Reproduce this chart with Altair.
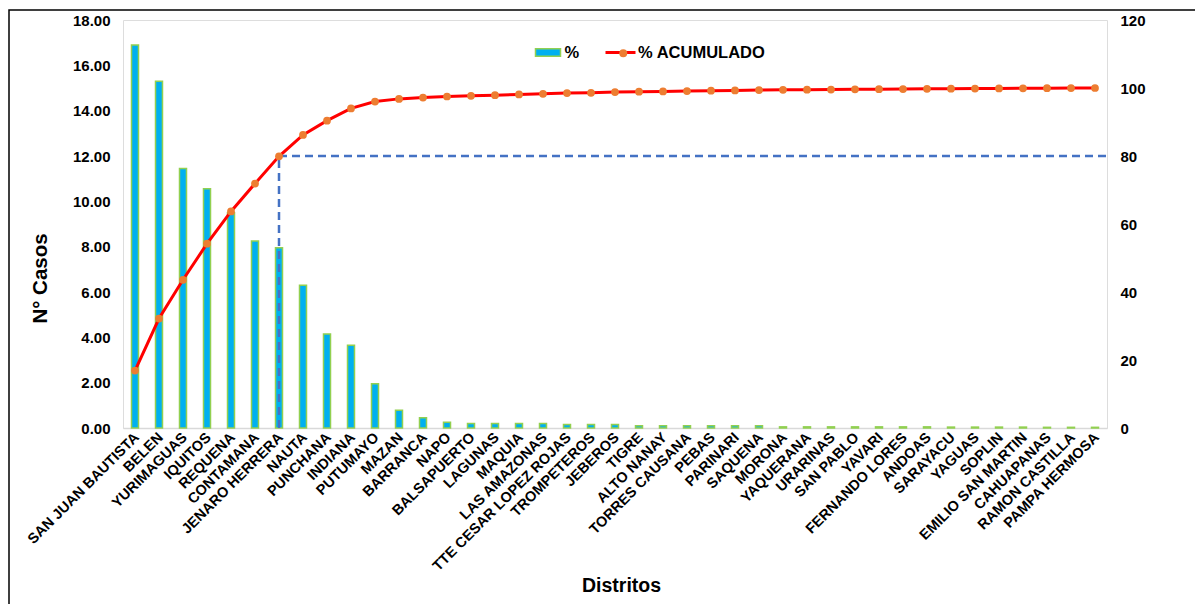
import altair as alt
import pandas as pd

# ---------------- data ----------------
distritos = [
    "SAN JUAN BAUTISTA", "BELEN", "YURIMAGUAS", "IQUITOS", "REQUENA", "CONTAMANA",
    "JENARO HERRERA", "NAUTA", "PUNCHANA", "INDIANA", "PUTUMAYO", "MAZAN", "BARRANCA",
    "NAPO", "BALSAPUERTO", "LAGUNAS", "MAQUIA", "LAS AMAZONAS", "TTE CESAR LOPEZ ROJAS",
    "TROMPETEROS", "JEBEROS", "TIGRE", "ALTO NANAY", "TORRES CAUSANA", "PEBAS",
    "PARINARI", "SAQUENA", "MORONA", "YAQUERANA", "URARINAS", "SAN PABLO", "YAVARI",
    "FERNANDO LORES", "ANDOAS", "SARAYACU", "YAGUAS", "SOPLIN", "EMILIO SAN MARTIN",
    "CAHUAPANAS", "RAMON CASTILLA", "PAMPA HERMOSA",
]
porcentaje = [
    16.9, 15.3, 11.45, 10.55, 9.5, 8.25, 7.95, 6.3, 4.15, 3.65, 1.95, 0.78, 0.45,
    0.25, 0.2, 0.2, 0.2, 0.2, 0.15, 0.15, 0.15, 0.1, 0.1, 0.1, 0.1, 0.1, 0.1,
    0.05, 0.05, 0.05, 0.05, 0.05, 0.05, 0.05, 0.04, 0.04, 0.04, 0.04, 0.03, 0.03, 0.03,
]
acumulado = [
    16.9, 32.2, 43.6, 54.2, 63.7, 71.9, 79.9, 86.2, 90.4, 94.0, 96.0, 96.8, 97.2,
    97.5, 97.7, 97.9, 98.1, 98.3, 98.5, 98.6, 98.8, 98.9, 99.0, 99.1, 99.2, 99.3, 99.4,
    99.45, 99.5, 99.55, 99.6, 99.65, 99.7, 99.75, 99.79, 99.83, 99.87, 99.91, 99.94, 99.97, 100.0,
]
ticks_izq = [0, 2, 4, 6, 8, 10, 12, 14, 16, 18]
ticks_der = [0, 20, 40, 60, 80, 100, 120]
corte_distrito = ["JENARO HERRERA"]
corte_base = [0]
corte_valor = [80]

df = pd.DataFrame({
    "distrito": distritos,
    "pct": porcentaje,
    "acum": acumulado,
    "s_bar": ["%"] * len(distritos),
    "s_line": ["% ACUMULADO"] * len(distritos),
    "s_pt": ["punto"] * len(distritos),
})
ref = pd.DataFrame({"distrito": corte_distrito, "y0": corte_base, "y80": corte_valor})

FONT = "Liberation Sans"

x_enc = alt.X(
    "distrito:N",
    sort=distritos,
    scale=alt.Scale(paddingInner=0, paddingOuter=0),
    axis=alt.Axis(
        title="Distritos", labelAngle=-45, labelAlign="right", labelBaseline="middle",
        labelFontSize=14.5, labelFontWeight="bold", labelColor="#000000",
        labelPadding=7, labelOffset=2, labelOverlap=False, labelLimit=0,
        ticks=False, domainColor="#D9D9D9", domainWidth=1.5, grid=False,
        titleFontSize=19.5, titleFontWeight="bold", titleColor="#000000",
        titleX=498, titleY=157, titleBaseline="middle", titleAlign="center",
    ),
)

eje_der = alt.Axis(
    orient="right", title=None, values=ticks_der, grid=False, ticks=False,
    domain=False, labelFontSize=15, labelFontWeight="bold",
    labelColor="#000000", labelPadding=13,
)
escala_der = alt.Scale(domain=[0, 120], nice=False)

bars = alt.Chart(df).mark_bar(size=7, stroke="#92D050", strokeWidth=1.5).encode(
    x=x_enc,
    y=alt.Y(
        "pct:Q",
        scale=alt.Scale(domain=[0, 18], nice=False),
        axis=alt.Axis(
            orient="left", title="N° Casos", values=ticks_izq, format=".2f",
            grid=False, ticks=False, domain=False,
            labelFontSize=15, labelFontWeight="bold", labelColor="#000000", labelPadding=13,
            titleFontSize=20.5, titleFontWeight="bold", titleColor="#000000",
            titleX=-83, titleY=258, titleBaseline="middle", titleAlign="center",
        ),
    ),
    fill=alt.Fill(
        "s_bar:N",
        scale=alt.Scale(range=["#00B0F0"]),
        legend=alt.Legend(
            orient="none", legendX=411.5, legendY=19, title=None, padding=0,
            symbolType="M-1,-0.3H1V0.3H-1Z", symbolSize=625,
            symbolStrokeColor="#92D050", symbolStrokeWidth=1.5,
            labelFontSize=16.5, labelFontWeight="bold", labelColor="#000000", labelOffset=3,
        ),
    ),
)

line = alt.Chart(df).mark_line(strokeWidth=3).encode(
    x=x_enc,
    y=alt.Y("acum:Q", scale=escala_der, axis=eje_der),
    stroke=alt.Stroke(
        "s_line:N",
        scale=alt.Scale(range=["#FF0000"]),
        legend=alt.Legend(
            orient="none", legendX=481, legendY=16, title=None, padding=0,
            symbolType="stroke", symbolSize=900, symbolStrokeWidth=3,
            labelFontSize=16.5, labelFontWeight="bold", labelColor="#000000", labelOffset=1,
        ),
    ),
)

points = alt.Chart(df).mark_point(filled=True, color="#ED7D31", size=60, opacity=1).encode(
    x=x_enc,
    y=alt.Y("acum:Q", scale=escala_der, axis=eje_der),
    shape=alt.Shape(
        "s_pt:N",
        scale=alt.Scale(range=["circle"]),
        legend=alt.Legend(
            orient="none", legendX=492, legendY=25, title=None, padding=0,
            symbolSize=64, symbolFillColor="#ED7D31", symbolStrokeWidth=0,
            labelExpr="''", labelFontSize=16.5,
        ),
    ),
)

rule_h = alt.Chart(ref).mark_rule(color="#4472C4", strokeWidth=2.5, strokeDash=[8, 5]).encode(
    x=x_enc,
    x2=alt.value(984),
    y=alt.Y("y80:Q", scale=escala_der, axis=eje_der),
)
rule_v = alt.Chart(ref).mark_rule(color="#4472C4", strokeWidth=2.5, strokeDash=[8, 5]).encode(
    x=x_enc,
    y=alt.Y("y0:Q", scale=escala_der, axis=eje_der),
    y2="y80:Q",
)

frame = alt.Chart(pd.DataFrame({"a": [0]})).mark_rect(
    fill=None, fillOpacity=0, stroke="#000000", strokeWidth=1.5
).encode(
    x=alt.value(-114), x2=alt.value(2000), y=alt.value(-10), y2=alt.value(1000)
)

derecha = alt.layer(line, rule_h, rule_v, points)

chart = (
    alt.layer(frame, bars, derecha)
    .resolve_scale(y="independent")
    .properties(
        width=984, height=408,
        autosize=alt.AutoSizeParams(type="none"),
        padding={"left": 115, "top": 12, "right": 88, "bottom": 176},
        background="white",
    )
    .configure_view(stroke=None)
    .configure(font=FONT)
)

chart.save("out.html", embed_options={"renderer": "svg", "actions": False})
